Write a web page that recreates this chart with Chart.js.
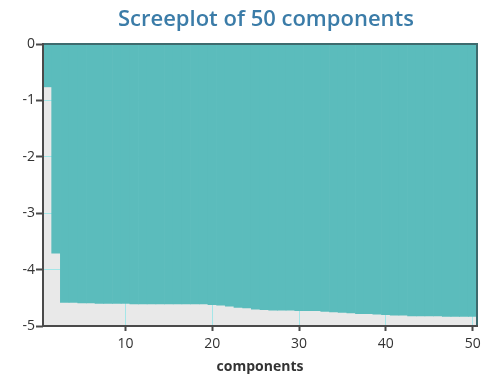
<!DOCTYPE html>
<html>
<head>
<meta charset="utf-8">
<script src="https://cdn.jsdelivr.net/npm/chart.js@4/dist/chart.umd.min.js"></script>
<style>
  html, body { margin: 0; padding: 0; background: #ffffff; }
  #wrap { width: 481px; height: 378px; }
</style>
</head>
<body>
<div id="wrap"><canvas id="c" width="481" height="378"></canvas></div>
<script>
// Component numbers 1..50
const components = [
  1, 2, 3, 4, 5, 6, 7, 8, 9, 10,
  11, 12, 13, 14, 15, 16, 17, 18, 19, 20,
  21, 22, 23, 24, 25, 26, 27, 28, 29, 30,
  31, 32, 33, 34, 35, 36, 37, 38, 39, 40,
  41, 42, 43, 44, 45, 46, 47, 48, 49, 50
];

// Scree values (log scale) for each component
const screeValues = [
  -0.76, -3.71, -4.58, -4.58, -4.59, -4.59, -4.60, -4.60, -4.60, -4.60,
  -4.61, -4.61, -4.61, -4.61, -4.61, -4.61, -4.61, -4.61, -4.61, -4.62,
  -4.63, -4.65, -4.67, -4.68, -4.70, -4.71, -4.72, -4.72, -4.72, -4.73,
  -4.73, -4.73, -4.74, -4.75, -4.76, -4.77, -4.78, -4.78, -4.79, -4.80,
  -4.81, -4.81, -4.82, -4.82, -4.82, -4.82, -4.83, -4.83, -4.83, -4.83
];

const xTickLabels = [10, 20, 30, 40, 50];
const yTickValues = [0, -1, -2, -3, -4, -5];
const chartTitle = 'Screeplot of 50 components';

const TEAL = '#5bbcbc';
const AXIS = '#4a4a4a';
const GRID = '#a4e6e8';

// Plot background, axis lines drawn over the bars, frame and title
const frame = {
  id: 'frame',
  beforeDraw(chart) {
    const { ctx, chartArea: a } = chart;
    ctx.save();
    ctx.fillStyle = '#e9e9e9';
    ctx.fillRect(a.left, a.top, a.right - a.left, a.bottom - a.top);
    ctx.restore();
  },
  afterDatasetsDraw(chart) {
    const { ctx, chartArea: a } = chart;
    ctx.save();
    // top and right frame
    ctx.strokeStyle = '#3d6b6e';
    ctx.lineWidth = 2;
    ctx.beginPath();
    ctx.moveTo(a.left, a.top);
    ctx.lineTo(a.right, a.top);
    ctx.lineTo(a.right, a.bottom);
    ctx.stroke();
    // left and bottom axis lines
    ctx.strokeStyle = AXIS;
    ctx.beginPath();
    ctx.moveTo(a.left, a.top - 1);
    ctx.lineTo(a.left, a.bottom);
    ctx.lineTo(a.right + 1, a.bottom);
    ctx.stroke();
    // title
    ctx.fillStyle = '#3b7ca8';
    ctx.font = '600 22px "Open Sans"';
    ctx.textAlign = 'center';
    ctx.textBaseline = 'middle';
    ctx.fillText(chartTitle, 266, 20);
    ctx.restore();
  }
};

new Chart(document.getElementById('c'), {
  type: 'bar',
  data: {
    labels: components,
    datasets: [{
      data: screeValues,
      backgroundColor: TEAL,
      borderWidth: 0,
      barPercentage: 1.0,
      categoryPercentage: 1.0
    }]
  },
  options: {
    responsive: false,
    animation: false,
    layout: { padding: { left: 0, right: 4, top: 44, bottom: 0 } },
    plugins: {
      legend: { display: false },
      tooltip: { enabled: false },
      title: { display: false }
    },
    scales: {
      x: {
        type: 'category',
        offset: true,
        afterFit(s) { s.height = 52; s.paddingLeft = 0; s.paddingRight = 0; },
        border: { display: false },
        grid: {
          offset: false,
          drawOnChartArea: true,
          tickLength: 5,
          color: ctx => (xTickLabels.includes(components[ctx.index]) ? GRID : 'rgba(0,0,0,0)'),
          tickColor: ctx => (xTickLabels.includes(components[ctx.index]) ? AXIS : 'rgba(0,0,0,0)'),
          tickWidth: 2
        },
        ticks: {
          autoSkip: false,
          maxRotation: 0,
          padding: 5,
          color: '#333333',
          font: { family: 'Open Sans', size: 14 },
          callback(value, index) {
            const c = components[index];
            return xTickLabels.includes(c) ? String(c) : '';
          }
        },
        title: {
          display: true,
          text: 'components',
          color: '#333333',
          font: { family: 'Open Sans', size: 14, weight: 'bold' },
          padding: { top: 0, bottom: 3 }
        }
      },
      y: {
        min: -5,
        max: 0,
        afterFit(s) { s.width = 43; s.paddingTop = 0; s.paddingBottom = 0; },
        afterBuildTicks(s) { s.ticks = yTickValues.map(v => ({ value: v })); },
        border: { display: false },
        grid: {
          tickLength: 7,
          tickWidth: 2,
          color: ctx => (ctx.tick && (ctx.tick.value === 0 || ctx.tick.value === -5) ? 'rgba(0,0,0,0)' : GRID),
          tickColor: AXIS
        },
        ticks: {
          padding: 1,
          color: '#333333',
          font: { family: 'Open Sans', size: 14 }
        }
      }
    }
  },
  plugins: [frame]
});
</script>
</body>
</html>
